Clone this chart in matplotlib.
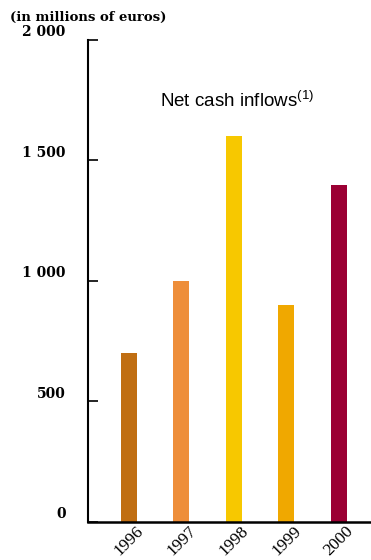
import matplotlib.pyplot as plt
import matplotlib.transforms as mtransforms

years = ['1996', '1997', '1998', '1999', '2000']
inflows = [700, 1000, 1600, 900, 1400]
colors = ['#C06E12', '#EE8E3A', '#F7C800', '#F0A800', '#9B0034']
yticks = [0, 500, 1000, 1500, 2000]
ytick_labels = ['0', '500', '1 000', '1 500', '2 000']

fig = plt.figure(figsize=(3.71, 5.60), dpi=100)
ax = fig.add_axes([0.2372, 0.0679, 0.7628, 0.8607])

x = range(len(years))
ax.bar(x, inflows, width=0.305, color=colors)

ax.set_xlim(-0.78, 4.61)
ax.set_ylim(0, 2000)

for s in ['top', 'right']:
    ax.spines[s].set_visible(False)
ax.spines['left'].set_linewidth(1.5)
ax.spines['bottom'].set_linewidth(1.8)

serif = ['DejaVu Serif']

ax.set_yticks(yticks)
ax.set_yticklabels(ytick_labels, family=serif, fontweight='bold', fontsize=10)
ax.tick_params(axis='y', direction='in', length=7, width=1.2, pad=16)
offset = mtransforms.ScaledTranslation(0, 9 / 100, fig.dpi_scale_trans)
for lab in ax.get_yticklabels():
    lab.set_transform(lab.get_transform() + offset)

ax.set_xticks(list(x))
ax.set_xticklabels(years, family=['Liberation Serif'], fontsize=12.5, rotation=45,
                   ha='center', va='top')
ax.tick_params(axis='x', length=0, pad=1)

fig.text(0.027, 0.968, '(in millions of euros)', family=serif,
         fontweight='bold', fontsize=9.5, va='center', ha='left')

ax.text(0.255, 0.875, r'Net cash inflows$^{\mathregular{(1)}}$',
        transform=ax.transAxes, family='Liberation Sans', fontsize=13.5,
        va='center', ha='left')

fig.savefig('out.png', dpi=100)
